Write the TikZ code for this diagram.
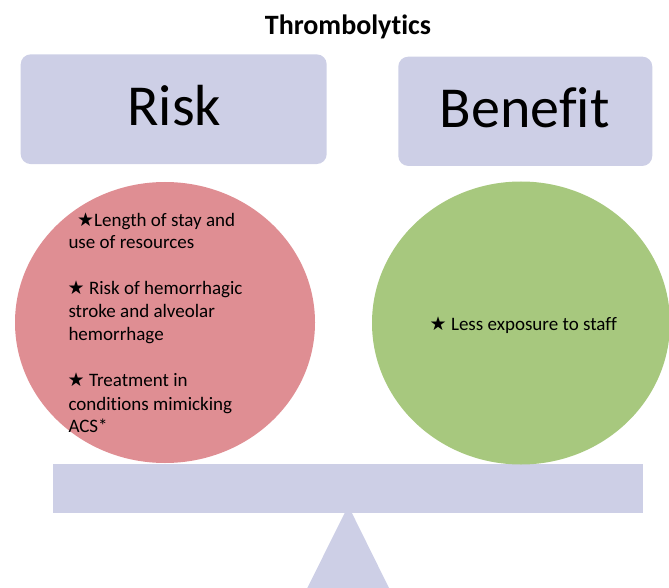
\documentclass[tikz,border=0pt]{standalone}
\usepackage{fontspec}
\setmainfont{Carlito}[Ligatures={NoCommon,NoRare,NoContextual},RawFeature={-liga;-clig;-dlig}]
\newfontfamily\starfont{DejaVu Sans}
\usetikzlibrary{shapes.geometric}
\definecolor{lav}{RGB}{205,207,230}
\definecolor{riskred}{RGB}{223,142,147}
\definecolor{bengreen}{RGB}{167,200,126}
\tikzset{
  headbox/.style={fill=lav, rounded corners=10pt, inner sep=0pt},
  headtext/.style={inner sep=0pt, anchor=base, font=\fontsize{58}{70}\selectfont},
  pan/.style={ellipse, inner sep=0pt},
  bodytext/.style={inner sep=0pt, anchor=base west, font=\fontsize{19}{23}\selectfont},
  scalepart/.style={fill=lav, draw=none},
}
\newcommand{\mystar}{{\starfont\fontsize{19}{19}\selectfont ★}}
\begin{document}
\begin{tikzpicture}[x=1pt,y=-1pt]
\useasboundingbox (0,0) rectangle (669,588);
\clip (0,0) rectangle (669,588);
% title
\node[inner sep=0pt, anchor=base, font=\bfseries\fontsize{28}{34}\selectfont] (title) at (348,35) {Thrombolytics};
% header boxes
\node[headbox, minimum width=306pt, minimum height=109.7pt] (riskbox) at (173.7,109.2) {};
\node[headtext] (risklabel) at (174.3,126) {Risk};
\node[headbox, minimum width=254pt, minimum height=109.3pt] (benbox) at (525.3,111.3) {};
\node[headtext] (benlabel) at (524.8,127.5) {Benefit};
% scale
\path[scalepart] (348.3,505.7) -- (389,588) -- (307.3,588) -- cycle;
\node[scalepart, inner sep=0pt, minimum width=589.4pt, minimum height=49pt] (beam) at (348,488.8) {};
% pans
\node[pan, fill=riskred, minimum width=300pt, minimum height=281pt] (riskpan) at (165,322.5) {};
\node[pan, fill=bengreen, minimum width=298pt, minimum height=283pt] (benpan) at (521,323) {};
% risk text
\node[bodytext] (r1) at (77,226) {\mystar Length of stay and};
\node[bodytext] (r2) at (68.3,248.5) {use of resources};
\node[bodytext] (r3) at (67.5,294.3) {\mystar\ Risk of hemorrhagic};
\node[bodytext] (r4) at (68.3,317.7) {stroke and alveolar};
\node[bodytext] (r5) at (68.3,340.7) {hemorrhage};
\node[bodytext] (r6) at (67.5,386.7) {\mystar\ Treatment in};
\node[bodytext] (r7) at (68.3,410) {conditions mimicking};
\node[bodytext] (r8) at (68.3,432.7) {ACS*};
% benefit text
\node[bodytext] (g1) at (429.5,330) {\mystar\ Less exposure to staff};
\end{tikzpicture}
\end{document}
